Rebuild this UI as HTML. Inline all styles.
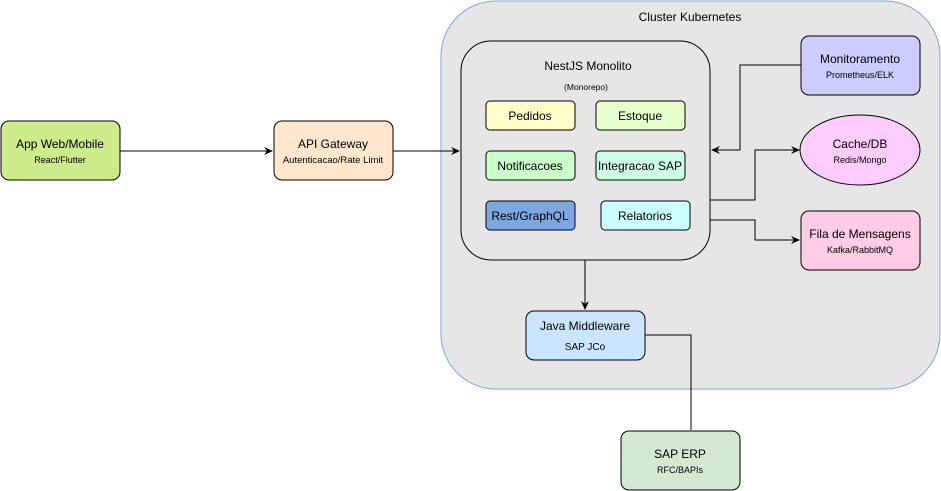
<!DOCTYPE html>
<html><head><meta charset="utf-8"><style>
html,body{margin:0;padding:0;background:#fff;width:941px;height:491px;overflow:hidden}
text{font-family:"Liberation Sans",Arial,sans-serif;fill:#000}
</style></head><body>
<svg width="941" height="491" viewBox="0 0 941 491" xmlns="http://www.w3.org/2000/svg">
<defs><marker id="a" markerWidth="10" markerHeight="10" refX="8" refY="5" orient="auto" markerUnits="userSpaceOnUse"><path d="M0,1 L9,5 L0,9 L3,5 Z" fill="#000"/></marker></defs>
<rect x="441" y="1" width="499" height="388" rx="55" fill="#e6e6e6" stroke="#7ea6e0"/>
<text x="690" y="21" font-size="12" text-anchor="middle">Cluster Kubernetes</text>
<rect x="461" y="41" width="249" height="219" rx="30" fill="#e6e6e6" stroke="#000"/>
<text x="588" y="70" font-size="12" text-anchor="middle">NestJS Monolito</text>
<text x="586" y="90" font-size="8.5" text-anchor="middle">(Monorepo)</text>
<g stroke="#000" font-size="12">
<rect x="486" y="101" width="89" height="29" rx="4" fill="#ffffcc"/>
<rect x="596" y="101" width="89" height="29" rx="4" fill="#e6ffcc"/>
<rect x="486" y="151" width="89" height="29" rx="4" fill="#ccffcc"/>
<rect x="596" y="151" width="89" height="29" rx="4" fill="#ccffe6"/>
<rect x="486" y="201" width="89" height="29" rx="4" fill="#7ea6e0"/>
<rect x="601" y="201" width="89" height="29" rx="4" fill="#ccffff"/>
<rect x="801" y="36" width="119" height="59" rx="8" fill="#ccccff"/>
<ellipse cx="860" cy="150" rx="60" ry="35" fill="#ffccff"/>
<rect x="801" y="211" width="119" height="59" rx="8" fill="#ffcce6"/>
<rect x="1" y="121" width="119" height="59" rx="8" fill="#cdeb8b"/>
<rect x="274" y="121" width="119" height="59" rx="8" fill="#ffe6cc"/>
<rect x="526" y="311" width="119" height="49" rx="8" fill="#cce5ff"/>
<rect x="621" y="431" width="119" height="59" rx="8" fill="#d5e8d4"/>
</g>
<g font-size="12" text-anchor="middle">
<text x="530" y="120">Pedidos</text>
<text x="640" y="120">Estoque</text>
<text x="530" y="170">Notificacoes</text>
<text x="640" y="170">Integracao SAP</text>
<text x="530" y="220">Rest/GraphQL</text>
<text x="645" y="220">Relatorios</text>
<text x="860" y="63">Monitoramento</text>
<text x="860" y="148">Cache/DB</text>
<text x="860" y="238">Fila de Mensagens</text>
<text x="60" y="148">App Web/Mobile</text>
<text x="333" y="148">API Gateway</text>
<text x="585" y="330">Java Middleware</text>
<text x="680" y="458">SAP ERP</text>
</g>
<g font-size="9" text-anchor="middle">
<text x="860" y="78">Prometheus/ELK</text>
<text x="860" y="163">Redis/Mongo</text>
<text x="860" y="253">Kafka/RabbitMQ</text>
<text x="60" y="163">React/Flutter</text>
<text x="333" y="163" font-size="9.5">Autenticacao/Rate Limit</text>
<text x="585" y="350" font-size="10">SAP JCo</text>
<text x="680" y="473">RFC/BAPIs</text>
</g>
<g stroke="#000" fill="none">
<path d="M120,151 H272" marker-end="url(#a)"/>
<path d="M393,151 H459" marker-end="url(#a)"/>
<path d="M801,65 H740 V150 H712" marker-end="url(#a)"/>
<path d="M710,200 H755 V150 H799" marker-end="url(#a)"/>
<path d="M710,220 H755 V240 H799" marker-end="url(#a)"/>
<path d="M585,260 V309" marker-end="url(#a)"/>
<path d="M645,335 H691 V430"/>
</g>
</svg>
</body></html>
